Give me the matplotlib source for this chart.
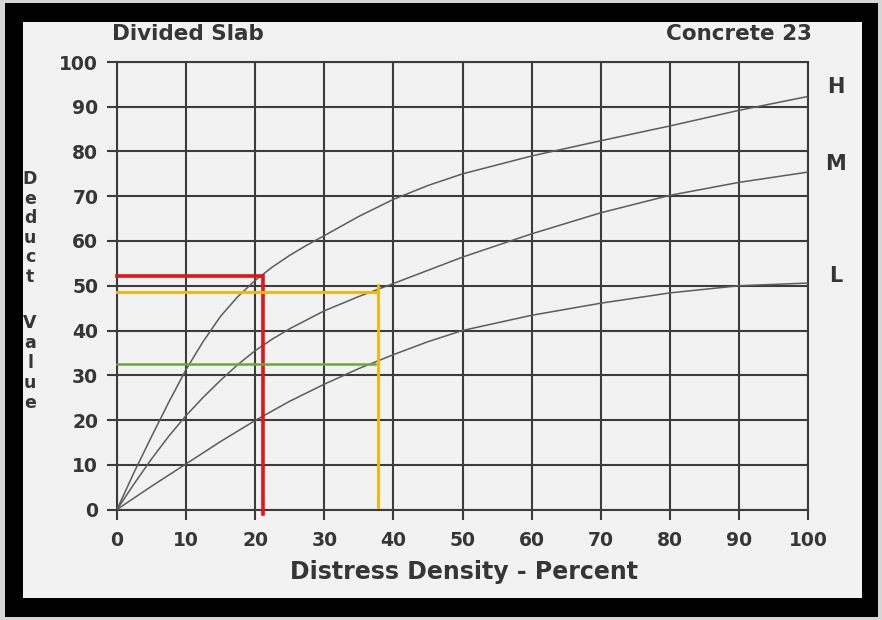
import matplotlib
matplotlib.use('Agg')
import matplotlib.pyplot as plt
from matplotlib.patches import Rectangle

# ─── Data (distress density %, deduct value) ──────────────────────────────────
H_X = [0, 2.5, 5, 7.5, 10, 12.5, 15, 17.5, 20, 22.5, 25, 27.5, 30, 35, 40, 45,
       50, 60, 70, 80, 90, 100]
H_Y = [0, 8.4, 16.3, 24, 31.3, 37.6, 43.2, 47.6, 51.2, 54.2, 56.8, 59.1, 61.2,
       65.5, 69.3, 72.4, 75, 79, 82.4, 85.7, 89.2, 92.3]

M_X = [0, 2.5, 5, 7.5, 10, 12.5, 15, 17.5, 20, 22.5, 25, 30, 35, 40, 50, 60,
       70, 80, 90, 100]
M_Y = [0, 5.8, 11.3, 16.4, 21, 25.1, 28.9, 32.4, 35.5, 38.1, 40.4, 44.4, 47.6,
       50.5, 56.4, 61.6, 66.3, 70.2, 73.1, 75.4]

L_X = [0, 5, 10, 15, 20, 25, 30, 35, 40, 45, 50, 60, 70, 80, 90, 100]
L_Y = [0, 5.2, 10.2, 15.2, 19.9, 24.2, 28, 31.5, 34.6, 37.5, 40, 43.4, 46.1,
       48.4, 50, 50.6]

CURVE_LABELS = ['H', 'M', 'L']
CURVE_LABEL_Y = [94.5, 77.2, 52.2]

TICKS = list(range(0, 101, 10))

# worked-example lookup lines
RED_X, RED_Y = 21.1, 52.2
YEL_X, YEL_Y = 37.7, 48.5
GRN_X, GRN_Y = 37.4, 32.6

# ─── Colours ──────────────────────────────────────────────────────────────────
PAPER = '#f2f2f2'
GRID = '#3c3c3c'
CURVE = '#5c5c5c'
INK = '#363636'
RED = '#e3141b'
YELLOW = '#f3b70c'
GREEN = '#6aa83c'

W, H = 882, 620
fig = plt.figure(figsize=(W / 100, H / 100), dpi=100)
fig.patch.set_facecolor('#d6d6d6')

# black frame + paper panel
fig.add_artist(Rectangle((5 / W, 3 / H), 873 / W, 614 / H, transform=fig.transFigure,
                         facecolor='black', edgecolor='none', zorder=-3))
fig.add_artist(Rectangle((23 / W, 1 - 598 / H), 839 / W, 576 / H, transform=fig.transFigure,
                         facecolor=PAPER, edgecolor='none', zorder=-2))

ax = fig.add_axes([117 / W, (H - 509.5) / H, 691 / W, 447.5 / H])
ax.set_facecolor('none')
ax.set_xlim(0, 100)
ax.set_ylim(0, 100)
ax.set_xticks(TICKS)
ax.set_yticks(TICKS)
ax.grid(True, color=GRID, lw=1.5)
ax.set_axisbelow(True)
for sp in ax.spines.values():
    sp.set_color(GRID)
    sp.set_linewidth(1.5)
ax.tick_params(axis='both', direction='out', length=7.5, width=1.5, color=GRID,
               labelsize=13.5, labelcolor=INK)
ax.tick_params(axis='x', pad=8)
ax.tick_params(axis='y', pad=6)
for lab in ax.get_xticklabels() + ax.get_yticklabels():
    lab.set_fontweight('bold')

# curves
for xs, ys in ((H_X, H_Y), (M_X, M_Y), (L_X, L_Y)):
    ax.plot(xs, ys, color=CURVE, lw=1.1, zorder=3)

for name, yv in zip(CURVE_LABELS, CURVE_LABEL_Y):
    ax.text(104, yv, name, ha='center', va='center', fontsize=15,
            fontweight='bold', color=INK, clip_on=False)

# lookup lines
ax.plot([0, RED_X, RED_X], [RED_Y, RED_Y, -0.9], color=RED, lw=2.6,
        solid_joinstyle='miter', clip_on=False, zorder=4)
ax.plot([0, YEL_X], [YEL_Y, YEL_Y], color=YELLOW, lw=2.1, clip_on=False, zorder=4)
ax.plot([YEL_X, YEL_X], [50.2, 0.6], color=YELLOW, lw=2.1, clip_on=False, zorder=4)
ax.plot([0, GRN_X], [GRN_Y, GRN_Y], color=GREEN, lw=1.8, clip_on=False, zorder=4)

# titles
ax.text(-0.7, 106.2, 'Divided Slab', ha='left', va='center', fontsize=15.5,
        fontweight='bold', color=INK, clip_on=False)
ax.text(100.6, 106.2, 'Concrete 23', ha='right', va='center', fontsize=15.5,
        fontweight='bold', color=INK, clip_on=False)

# axis labels
fig.text(464 / W, 1 - 578.5 / H, 'Distress Density - Percent', ha='center',
         va='baseline', fontsize=17, fontweight='bold', color=INK)

for i, ch in enumerate('Deduct'):
    fig.text(30 / W, 1 - (179 + i * 19.6) / H, ch, ha='center', va='center',
             fontsize=12.5, fontweight='bold', color=INK)
for i, ch in enumerate('Value'):
    fig.text(30 / W, 1 - (323 + i * 20) / H, ch, ha='center', va='center',
             fontsize=12.5, fontweight='bold', color=INK)

fig.savefig('out.png', dpi=100, facecolor=fig.get_facecolor())
